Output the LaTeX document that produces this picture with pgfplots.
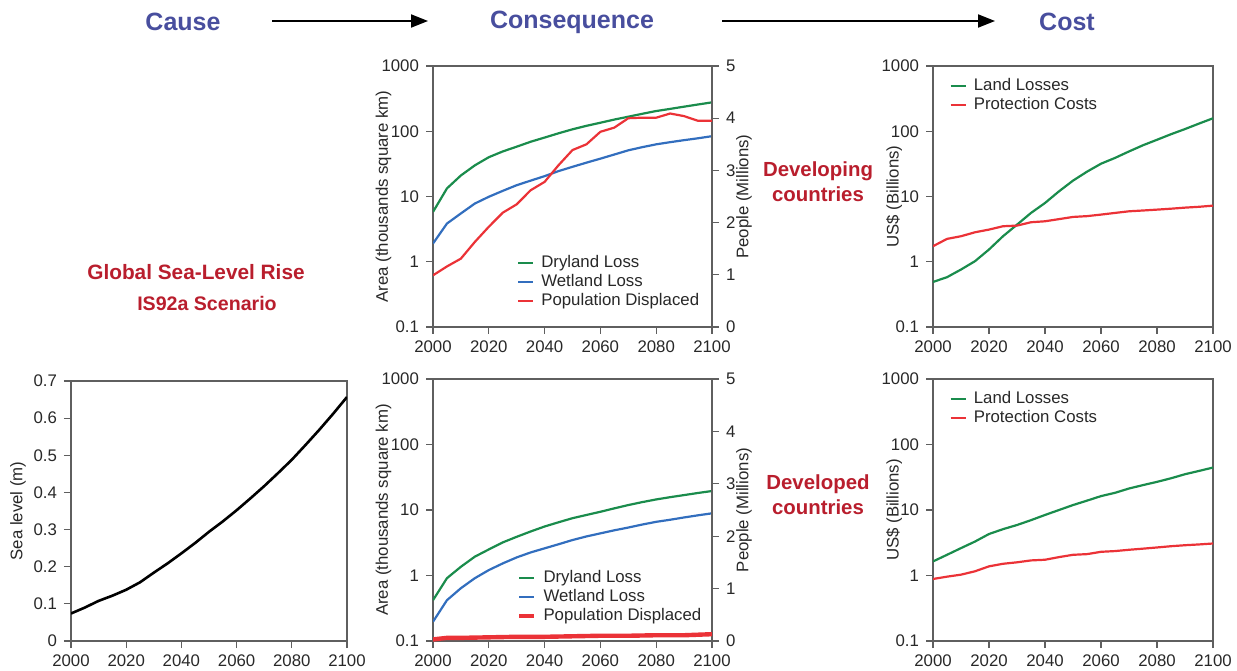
\documentclass[border=0pt]{standalone}
\usepackage{pgfplots}
\pgfplotsset{compat=1.18}
\usepackage{fontspec}
\setmainfont{Liberation Sans}
\usetikzlibrary{arrows.meta}
\definecolor{ttlblue}{RGB}{72,78,158}
\definecolor{lblred}{RGB}{185,30,45}
\definecolor{cgreen}{RGB}{26,140,76}
\definecolor{cblue}{RGB}{50,110,190}
\definecolor{cred}{RGB}{235,50,55}
\definecolor{axgray}{RGB}{95,95,95}
\definecolor{txtgray}{RGB}{40,40,40}
\newcommand{\tf}{\fontsize{8.4}{10}\selectfont}
\pgfplotsset{
  legend image code/.code={\draw[#1] (0pt,0pt) -- (7.5pt,0pt); \path (10.5pt,0pt);},
  every axis legend/.append style={draw=none, fill=none, anchor=north west, inner sep=0pt,
      row sep=0pt, font=\tf, text=txtgray,
      nodes={inner sep=0.5pt, text height=6.4pt, text depth=2.05pt}},
  legend cell align=left,
}
\pgfplotsset{
  base/.style={
    scale only axis,
    xmin=2000, xmax=2100,
    xtick={2000,2020,2040,2060,2080,2100},
    xticklabels={2000,2020,2040,2060,2080,2100},
    tick align=outside,
    xtick pos=bottom, ytick pos=left,
    major tick length=3.5pt,
    axis line style={draw=axgray, line width=0.6pt},
    every tick/.style={draw=axgray, line width=0.6pt},
    tick label style={font=\tf, text=txtgray},
    label style={font=\tf, text=txtgray},
  },
  logax/.style={base, ymin=0.1, ymax=1000,
    ytick={0.1,1,10,100,1000}, yticklabels={0.1,1,10,100,1000},
    yminorticks=false},
  peopleax/.style={base, axis x line=none, axis y line*=right,
    ytick pos=right,
    ymin=0, ymax=5, ytick={0,1,2,3,4,5}, yticklabels={0,1,2,3,4,5},
    ylabel={People (Millions)},
    ylabel style={at={(axis description cs:1.115,0.5)}, anchor=center}},
}
\begin{document}
\begin{tikzpicture}
\useasboundingbox (0,0) rectangle (618.5pt,335pt);

% titles
\node[font=\fontsize{12.5}{14}\selectfont\bfseries, text=ttlblue] at (91.5pt,324pt) {Cause};
\node[font=\fontsize{12.5}{14}\selectfont\bfseries, text=ttlblue] at (286pt,324pt) {Consequence};
\node[font=\fontsize{12.5}{14}\selectfont\bfseries, text=ttlblue] at (533.5pt,324pt) {Cost};
\draw[line width=1pt, -{Triangle[length=8.5pt,width=6.5pt]}] (136pt,324.5pt) -- (214pt,324.5pt);
\draw[line width=1pt, -{Triangle[length=8.5pt,width=6.5pt]}] (361pt,324.5pt) -- (497.5pt,324.5pt);

% red labels
\node[font=\fontsize{10.4}{12}\selectfont\bfseries, text=lblred] at (98pt,199pt) {Global Sea-Level Rise};
\node[font=\fontsize{9.8}{12}\selectfont\bfseries, text=lblred] at (103.5pt,183.5pt) {IS92a Scenario};
\node[font=\fontsize{10.2}{12.5}\selectfont\bfseries, text=lblred, align=center] at (409pt,244pt) {Developing\\countries};
\node[font=\fontsize{10.2}{12.5}\selectfont\bfseries, text=lblred, align=center] at (409pt,87.5pt) {Developed\\countries};

% ---------- top middle ----------
\begin{axis}[ymode=log, logax, at={(216.5pt,171.5pt)}, anchor=south west, width=139.5pt, height=130.5pt,
  ylabel={Area (thousands square km)},
  ylabel style={at={(axis description cs:-0.177,0.5)}, anchor=center},
  legend style={at={(0.300,0.282)}}]
\addplot[cgreen, line width=1.1pt] coordinates {(2000,5.8)(2005,13.3)(2010,21)(2015,30)(2020,40)(2025,49)(2030,58)(2035,69)(2040,80)(2045,93)(2050,107)(2055,121)(2060,135)(2065,151)(2070,167)(2075,185)(2080,204)(2085,220)(2090,238)(2095,257)(2100,277)};
\addlegendentry{Dryland Loss}
\addplot[cblue, line width=1.1pt] coordinates {(2000,1.9)(2005,3.85)(2010,5.5)(2015,7.8)(2020,9.9)(2025,12.2)(2030,14.9)(2035,17.5)(2040,20.5)(2045,24.5)(2050,28.5)(2055,33)(2060,38)(2065,44)(2070,51)(2075,57)(2080,63)(2085,68)(2090,73)(2095,78)(2100,84)};
\addlegendentry{Wetland Loss}
\addlegendimage{cred, line width=1.1pt}
\addlegendentry{Population Displaced}
\end{axis}
\begin{axis}[peopleax, at={(216.5pt,171.5pt)}, anchor=south west, width=139.5pt, height=130.5pt]
\addplot[cred, line width=1.1pt] coordinates {(2000,0.99)(2005,1.16)(2010,1.31)(2015,1.63)(2020,1.92)(2025,2.19)(2030,2.35)(2035,2.62)(2040,2.78)(2045,3.10)(2050,3.39)(2055,3.50)(2060,3.74)(2065,3.82)(2070,4.0)(2075,4.01)(2080,4.01)(2085,4.09)(2090,4.04)(2095,3.95)(2100,3.95)};
\end{axis}

% ---------- top right ----------
\begin{axis}[ymode=log, logax, at={(466.5pt,171.5pt)}, anchor=south west, width=140pt, height=130.5pt,
  ylabel={US\$ (Billions)},
  ylabel style={at={(axis description cs:-0.139,0.5)}, anchor=center},
  legend style={at={(0.058,0.960)}}]
\addplot[cgreen, line width=1.1pt] coordinates {(2000,0.49)(2005,0.58)(2010,0.76)(2015,1.02)(2020,1.54)(2025,2.46)(2030,3.7)(2035,5.6)(2040,7.95)(2045,12)(2050,17.5)(2055,24)(2060,31.8)(2065,39)(2070,49)(2075,61)(2080,74)(2085,90)(2090,108)(2095,131)(2100,158)};
\addlegendentry{Land Losses}
\addplot[cred, line width=1.1pt] coordinates {(2000,1.73)(2005,2.24)(2010,2.46)(2015,2.83)(2020,3.11)(2025,3.5)(2030,3.58)(2035,4.03)(2040,4.17)(2045,4.5)(2050,4.86)(2055,5.0)(2060,5.28)(2065,5.6)(2070,5.93)(2075,6.1)(2080,6.29)(2085,6.5)(2090,6.75)(2095,6.95)(2100,7.24)};
\addlegendentry{Protection Costs}
\end{axis}

% ---------- bottom left ----------
\begin{axis}[base, at={(35.5pt,14.5pt)}, anchor=south west, width=138pt, height=130pt,
  ymin=0, ymax=0.7, ytick={0,0.1,0.2,0.3,0.4,0.5,0.6,0.7},
  yticklabels={0,0.1,0.2,0.3,0.4,0.5,0.6,0.7},
  ylabel={Sea level (m)},
  ylabel style={at={(axis description cs:-0.192,0.5)}, anchor=center}]
\addplot[black, line width=1.3pt] coordinates {(2000,0.074)(2005,0.09)(2010,0.108)(2015,0.122)(2020,0.138)(2025,0.158)(2030,0.184)(2035,0.209)(2040,0.236)(2045,0.264)(2050,0.294)(2055,0.322)(2060,0.352)(2065,0.384)(2070,0.417)(2075,0.452)(2080,0.488)(2085,0.528)(2090,0.569)(2095,0.612)(2100,0.657)};
\end{axis}

% ---------- bottom middle ----------
\begin{axis}[ymode=log, logax, at={(216.5pt,14.5pt)}, anchor=south west, width=139.5pt, height=131pt,
  ylabel={Area (thousands square km)},
  ylabel style={at={(axis description cs:-0.177,0.5)}, anchor=center},
  legend style={at={(0.300,0.277)}}]
\addplot[cgreen, line width=1.1pt] coordinates {(2000,0.42)(2005,0.91)(2010,1.36)(2015,1.94)(2020,2.5)(2025,3.2)(2030,3.9)(2035,4.7)(2040,5.6)(2045,6.5)(2050,7.5)(2055,8.4)(2060,9.4)(2065,10.6)(2070,11.9)(2075,13.2)(2080,14.5)(2085,15.7)(2090,16.9)(2095,18.2)(2100,19.5)};
\addlegendentry{Dryland Loss}
\addplot[cblue, line width=1.1pt] coordinates {(2000,0.197)(2005,0.42)(2010,0.64)(2015,0.91)(2020,1.21)(2025,1.53)(2030,1.89)(2035,2.25)(2040,2.6)(2045,3.0)(2050,3.48)(2055,3.95)(2060,4.4)(2065,4.9)(2070,5.4)(2075,6.0)(2080,6.6)(2085,7.1)(2090,7.7)(2095,8.3)(2100,8.9)};
\addlegendentry{Wetland Loss}
\addlegendimage{cred, line width=2.2pt}
\addlegendentry{Population Displaced}
\end{axis}
\begin{axis}[peopleax, at={(216.5pt,14.5pt)}, anchor=south west, width=139.5pt, height=131pt]
\addplot[cred, line width=2.2pt] coordinates {(2000,0.03)(2005,0.06)(2010,0.06)(2020,0.07)(2030,0.08)(2040,0.08)(2050,0.09)(2060,0.10)(2070,0.10)(2080,0.11)(2090,0.11)(2100,0.13)};
\end{axis}

% ---------- bottom right ----------
\begin{axis}[ymode=log, logax, at={(466.5pt,14.5pt)}, anchor=south west, width=140pt, height=131pt,
  ylabel={US\$ (Billions)},
  ylabel style={at={(axis description cs:-0.139,0.5)}, anchor=center},
  legend style={at={(0.058,0.960)}}]
\addplot[cgreen, line width=1.1pt] coordinates {(2000,1.64)(2005,2.07)(2010,2.62)(2015,3.3)(2020,4.3)(2025,5.1)(2030,5.9)(2035,7.0)(2040,8.4)(2045,10)(2050,11.9)(2055,13.9)(2060,16.3)(2065,18.3)(2070,21.3)(2075,24)(2080,26.9)(2085,30.5)(2090,35.2)(2095,39.5)(2100,44.5)};
\addlegendentry{Land Losses}
\addplot[cred, line width=1.1pt] coordinates {(2000,0.885)(2005,0.96)(2010,1.03)(2015,1.16)(2020,1.38)(2025,1.51)(2030,1.59)(2035,1.70)(2040,1.74)(2045,1.91)(2050,2.07)(2055,2.12)(2060,2.30)(2065,2.36)(2070,2.47)(2075,2.57)(2080,2.68)(2085,2.80)(2090,2.90)(2095,2.98)(2100,3.08)};
\addlegendentry{Protection Costs}
\end{axis}
\end{tikzpicture}
\end{document}
